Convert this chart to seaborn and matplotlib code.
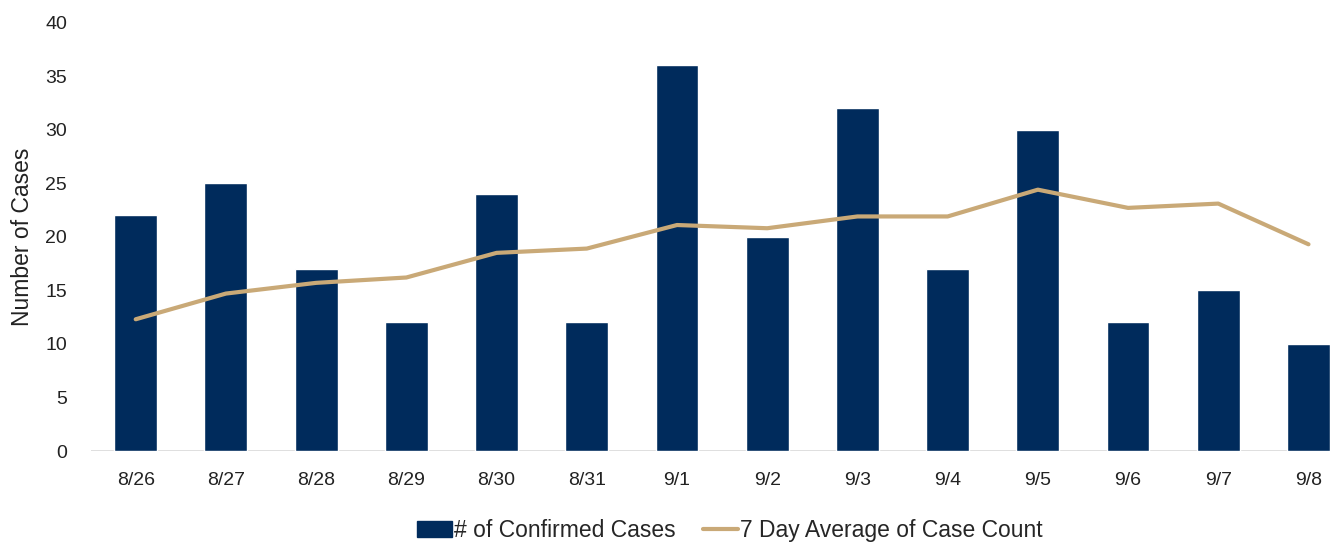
import pandas as pd
import matplotlib.pyplot as plt
import seaborn as sns
from matplotlib.lines import Line2D
from matplotlib.patches import Patch

dates = ['8/26', '8/27', '8/28', '8/29', '8/30', '8/31', '9/1',
         '9/2', '9/3', '9/4', '9/5', '9/6', '9/7', '9/8']
cases = [22, 25, 17, 12, 24, 12, 36, 20, 32, 17, 30, 12, 15, 10]
avg7 = [12.3, 14.7, 15.7, 16.2, 18.5, 18.9, 21.1, 20.8, 21.9, 21.9, 24.4, 22.7, 23.1, 19.3]

navy = '#002B5C'
gold = '#C9A977'

df = pd.DataFrame({'date': dates, 'cases': cases, 'avg': avg7})

sns.set_style('white')
plt.rcParams['font.family'] = ['Liberation Sans', 'DejaVu Sans']

fig = plt.figure(figsize=(13.3, 5.46), dpi=100)
# plot area runs off the right edge like in the original screenshot
ax = fig.add_axes([90.6 / 1330, 95 / 546, 1263 / 1330, 428.4 / 546])

sns.barplot(df, x='date', y='cases', color=navy, width=0.475, saturation=1, ax=ax)
sns.lineplot(df, x='date', y='avg', color=gold, linewidth=3, ax=ax, sort=False)

ax.set_xlim(-0.5, len(dates) - 0.5)
ax.set_ylim(0, 40)
ax.set_yticks(range(0, 41, 5))
for s in ax.spines.values():
    s.set_visible(False)
ax.axhline(0, color='#D9D9D9', lw=1.2, zorder=0)
ax.tick_params(axis='both', length=0, labelsize=14, colors='#222222')
ax.tick_params(axis='y', pad=17)
ax.tick_params(axis='x', pad=15)
ax.set_xlabel('')
ax.set_ylabel('Number of Cases', fontsize=16.5, color='#222222', labelpad=8)

handles = [Patch(color=navy), Line2D([0], [0], color=gold, lw=3)]
fig.legend(handles, ['# of Confirmed Cases', '7 Day Average of Case Count'],
           loc='lower center', bbox_to_anchor=(730 / 1330, -0.018), ncol=2,
           frameon=False, fontsize=16.5, handlelength=1.5, handletextpad=0.1,
           columnspacing=1.2, borderpad=0.1)

fig.savefig('out.png', dpi=100)
